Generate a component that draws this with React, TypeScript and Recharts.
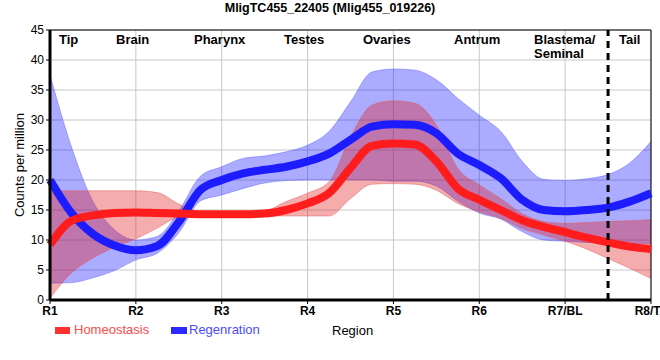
import { ComposedChart, Area, Line, XAxis, YAxis, CartesianGrid, ReferenceLine } from 'recharts'

// sample positions along the body (1 = R1 ... 8 = R8/T)
const positions = [1, 1.25, 1.5, 1.75, 2, 2.25, 2.5, 2.75, 3, 3.25, 3.5, 3.75, 4, 4.25, 4.5, 4.75, 5, 5.25, 5.5, 5.75, 6, 6.25, 6.5, 6.75, 7, 7.25, 7.5, 7.75, 8]
const regionTicks = ['R1', 'R2', 'R3', 'R4', 'R5', 'R6', 'R7/BL', 'R8/T']

// Homeostasis (red)
const homeo = [9.2, 13.2, 14.1, 14.5, 14.6, 14.5, 14.4, 14.3, 14.3, 14.3, 14.4, 15.0, 16.1, 17.8, 22.0, 25.7, 26.1, 25.9, 23.1, 18.6, 16.7, 15.0, 13.3, 12.2, 11.3, 10.4, 9.6, 8.9, 8.5]
const homeoLow = [0.3, 4.5, 7.0, 8.8, 10.2, 12.0, 13.8, 14.1, 14.1, 14.1, 14.0, 14.0, 14.0, 14.0, 16.9, 19.3, 19.4, 19.3, 18.3, 16.1, 14.7, 13.6, 11.9, 10.8, 9.8, 8.5, 6.9, 5.3, 3.6]
const homeoHigh = [18.2, 18.2, 18.2, 18.2, 18.2, 17.9, 16.0, 14.7, 14.5, 14.5, 14.8, 16.4, 17.8, 19.7, 27.2, 32.5, 33.2, 32.8, 29.2, 21.9, 19.2, 16.9, 14.4, 13.1, 12.8, 12.9, 13.1, 13.2, 13.4]

// Regeneration (blue)
const regen = [20.0, 14.5, 11.0, 9.1, 8.3, 9.0, 13.0, 18.3, 20.0, 21.1, 21.7, 22.2, 23.1, 24.4, 26.7, 28.9, 29.3, 29.2, 27.8, 24.4, 22.5, 20.3, 16.7, 15.0, 14.8, 15.0, 15.4, 16.4, 17.8]
const regenLow = [2.8, 2.9, 3.7, 4.9, 6.7, 7.8, 11.2, 16.5, 17.5, 18.6, 19.5, 19.9, 20.0, 20.0, 20.0, 20.0, 19.8, 19.8, 19.0, 16.5, 14.5, 13.5, 11.4, 10.0, 9.8, 9.6, 9.5, 9.4, 9.4]
const regenHigh = [37.5, 25.5, 16.4, 11.7, 10.0, 10.6, 14.8, 20.6, 22.2, 23.6, 24.0, 24.7, 25.8, 28.1, 33.0, 38.0, 38.5, 38.3, 36.7, 33.6, 30.8, 28.1, 23.1, 20.1, 19.9, 20.2, 20.9, 22.8, 26.4]

const sections = [
  { text: 'Tip', left: 59 },
  { text: 'Brain', left: 116 },
  { text: 'Pharynx', left: 194 },
  { text: 'Testes', left: 284 },
  { text: 'Ovaries', left: 363 },
  { text: 'Antrum', left: 454 },
  { text: 'Blastema/\nSeminal', left: 534 },
  { text: 'Tail', left: 619 },
]

const font = '"Liberation Sans", Arial, sans-serif'

export default function App() {
  const data = positions.map((x, i) => ({
    x,
    homeo: homeo[i],
    homeoBand: [homeoLow[i], homeoHigh[i]],
    regen: regen[i],
    regenBand: [regenLow[i], regenHigh[i]],
  }))

  return (
    <div style={{ position: 'absolute', left: 0, top: 0, width: 660, height: 360, fontFamily: font, background: '#fff' }}>
      <ComposedChart width={660} height={360} data={data} margin={{ top: 30, right: 9, bottom: 30, left: 0 }}>
        <CartesianGrid stroke="#c8c8c8" strokeWidth={1} />
        <XAxis
          dataKey="x"
          type="number"
          domain={[1, 8]}
          ticks={[1, 2, 3, 4, 5, 6, 7, 8]}
          tickFormatter={(v: number) => regionTicks[v - 1]}
          height={30}
          axisLine={{ stroke: '#000', strokeWidth: 3 }}
          tickLine={{ stroke: '#000' }}
          tickSize={4}
          tick={{ fill: '#000', fontSize: 12, fontWeight: 'bold', fontFamily: font }}
        />
        <YAxis
          type="number"
          domain={[0, 45]}
          ticks={[0, 5, 10, 15, 20, 25, 30, 35, 40, 45]}
          width={50}
          axisLine={{ stroke: '#000', strokeWidth: 3 }}
          tickLine={{ stroke: '#000' }}
          tickSize={4}
          tick={{ fill: '#000', fontSize: 12, fontFamily: font }}
        />
        <ReferenceLine y={45} stroke="#000" strokeWidth={1} />
        <ReferenceLine x={8} stroke="#000" strokeWidth={1} />
        <Area type="monotone" dataKey="regenBand" stroke="#6060ff" strokeWidth={0.5} fill="#0000ff" fillOpacity={0.33} isAnimationActive={false} />
        <Line type="monotone" dataKey="regen" stroke="#1c1cff" strokeWidth={8} dot={false} isAnimationActive={false} />
        <Area type="monotone" dataKey="homeoBand" stroke="#e06060" strokeWidth={0.5} fill="#e41a1a" fillOpacity={0.36} isAnimationActive={false} />
        <Line type="monotone" dataKey="homeo" stroke="#ff1c1c" strokeWidth={8} dot={false} isAnimationActive={false} />
        <ReferenceLine x={7.5} stroke="#000" strokeWidth={3} strokeDasharray="7 5" />
      </ComposedChart>

      <div style={{ position: 'absolute', left: 0, width: 660, top: 1, textAlign: 'center', fontWeight: 'bold', fontSize: 12.5 }}>
        MligTC455_22405 (Mlig455_019226)
      </div>

      {sections.map(s => (
        <div key={s.text} style={{ position: 'absolute', left: s.left, top: 33, fontWeight: 'bold', fontSize: 13, lineHeight: '14px', whiteSpace: 'pre', color: '#000' }}>
          {s.text}
        </div>
      ))}

      <div style={{ position: 'absolute', left: 19, top: 165, transform: 'translate(-50%, -50%) rotate(-90deg)', fontSize: 13, whiteSpace: 'nowrap', color: '#000' }}>
        Counts per million
      </div>

      <div style={{ position: 'absolute', left: 55, top: 327, width: 15, height: 7, background: '#ff3030' }} />
      <div style={{ position: 'absolute', left: 74, top: 322, fontSize: 13, color: '#ff4a4a' }}>Homeostasis</div>
      <div style={{ position: 'absolute', left: 171, top: 327, width: 16, height: 7, background: '#2a2aff' }} />
      <div style={{ position: 'absolute', left: 189, top: 322, fontSize: 13, color: '#4a4aff' }}>Regenration</div>
      <div style={{ position: 'absolute', left: 332, top: 323, fontSize: 13, color: '#000' }}>Region</div>
    </div>
  )
}
